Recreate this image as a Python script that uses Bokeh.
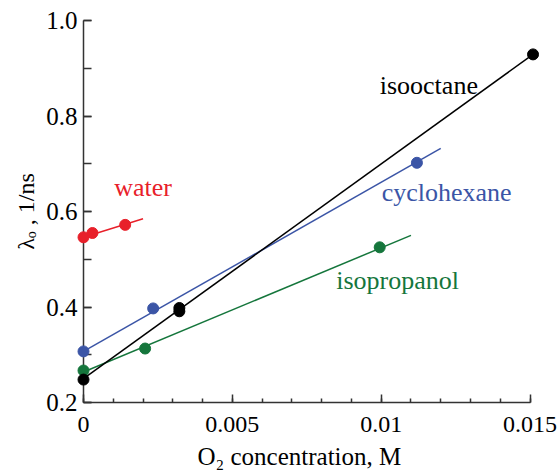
from bokeh.plotting import figure
from bokeh.models import Range1d, FixedTicker, CustomJSTickFormatter, NumeralTickFormatter, Label, Title
from bokeh.embed import file_html
from bokeh.resources import INLINE

# data
water_x = [0.0, 0.0003, 0.0014]
water_y = [0.546, 0.555, 0.572]
water_fit_x = [0.0, 0.002]
water_fit_y = [0.546, 0.585]

cyclo_x = [0.0, 0.00234, 0.0112]
cyclo_y = [0.307, 0.397, 0.702]
cyclo_fit_x = [0.0, 0.012]
cyclo_fit_y = [0.307, 0.732]

isoprop_x = [0.0, 0.00207, 0.00995]
isoprop_y = [0.267, 0.313, 0.525]
isoprop_fit_x = [0.0, 0.011]
isoprop_fit_y = [0.264, 0.550]

isooct_x = [0.0, 0.00322, 0.00322, 0.0151]
isooct_y = [0.248, 0.391, 0.398, 0.929]
isooct_fit_x = [0.0, 0.0151]
isooct_fit_y = [0.250, 0.929]

x_ticks = [0.0, 0.005, 0.01, 0.015]
x_minor = [i * 0.001 for i in range(16)]
y_ticks = [0.2, 0.4, 0.6, 0.8, 1.0]
y_minor = [0.2, 0.3, 0.4, 0.5, 0.6, 0.7, 0.8, 0.9, 1.0]

x_title = "O\u2082 concentration, M"
y_title = "\u03bb\u2092 , 1/ns"

RED = "#e8202a"
BLUE = "#3b55a6"
GREEN = "#15763c"
BLACK = "#000000"
FONT = "Liberation Serif"

p = figure(width=558, height=475, output_backend="svg", toolbar_location=None,
           x_range=Range1d(0, 0.01562), y_range=Range1d(0.2, 1.0),
           min_border_left=83, min_border_right=10, min_border_top=20, min_border_bottom=73)
p.outline_line_color = None
p.grid.visible = False
p.background_fill_color = "white"

for ax in (p.xaxis[0], p.yaxis[0]):
    ax.axis_line_width = 1.5
    ax.axis_line_color = "#333333"
    ax.major_tick_line_color = "#333333"
    ax.minor_tick_line_color = "#333333"
    ax.major_tick_line_width = 1.5
    ax.minor_tick_line_width = 1.5
    ax.major_tick_out = 0
    ax.minor_tick_out = 0
    ax.major_tick_in = 8
    ax.major_label_text_font = FONT
    ax.major_label_text_color = "black"
    ax.axis_label_text_font = FONT
    ax.axis_label_text_font_size = "24px"
    ax.axis_label_text_font_style = "normal"
    ax.axis_label_text_color = "black"

xa = p.xaxis[0]
xa.bounds = (0, 0.015)
xa.ticker = FixedTicker(ticks=x_ticks, minor_ticks=x_minor)
xa.formatter = CustomJSTickFormatter(code="return tick == 0 ? '0' : String(parseFloat(tick.toFixed(4)));")
xa.minor_tick_in = 4
xa.major_label_standoff = 14
xa.major_label_text_font_size = "24px"

ya = p.yaxis[0]
ya.bounds = (0.2, 1.0)
ya.ticker = FixedTicker(ticks=y_ticks, minor_ticks=y_minor)
ya.formatter = NumeralTickFormatter(format="0.0")
ya.minor_tick_in = 8
ya.major_label_standoff = 6
ya.major_label_text_font_size = "25px"
ya.axis_label = y_title
ya.axis_label_standoff = 4

# x axis title, placed where the reference has it
p.add_layout(Title(text=x_title, align="left", offset=114, text_font=FONT,
                   text_font_size="25px", text_font_style="normal", text_color="black",
                   standoff=12), "below")

series = [
    (water_fit_x, water_fit_y, water_x, water_y, RED),
    (cyclo_fit_x, cyclo_fit_y, cyclo_x, cyclo_y, BLUE),
    (isoprop_fit_x, isoprop_fit_y, isoprop_x, isoprop_y, GREEN),
    (isooct_fit_x, isooct_fit_y, isooct_x, isooct_y, BLACK),
]
for fx, fy, sx, sy, c in series:
    p.line(fx, fy, line_color=c, line_width=1.5)
    p.scatter(sx, sy, size=11, fill_color=c, line_color=c, level="overlay")

labels = [
    ("water", 0.0020, 0.650, RED),
    ("isooctane", 0.0116, 0.864, BLACK),
    ("cyclohexane", 0.0122, 0.640, BLUE),
    ("isopropanol", 0.01055, 0.455, GREEN),
]
for t, x, y, c in labels:
    p.add_layout(Label(x=x, y=y, text=t, text_color=c, text_font=FONT,
                       text_font_size="26px", text_align="center", text_baseline="middle"))

open("out.html", "w").write(file_html(p, INLINE))
